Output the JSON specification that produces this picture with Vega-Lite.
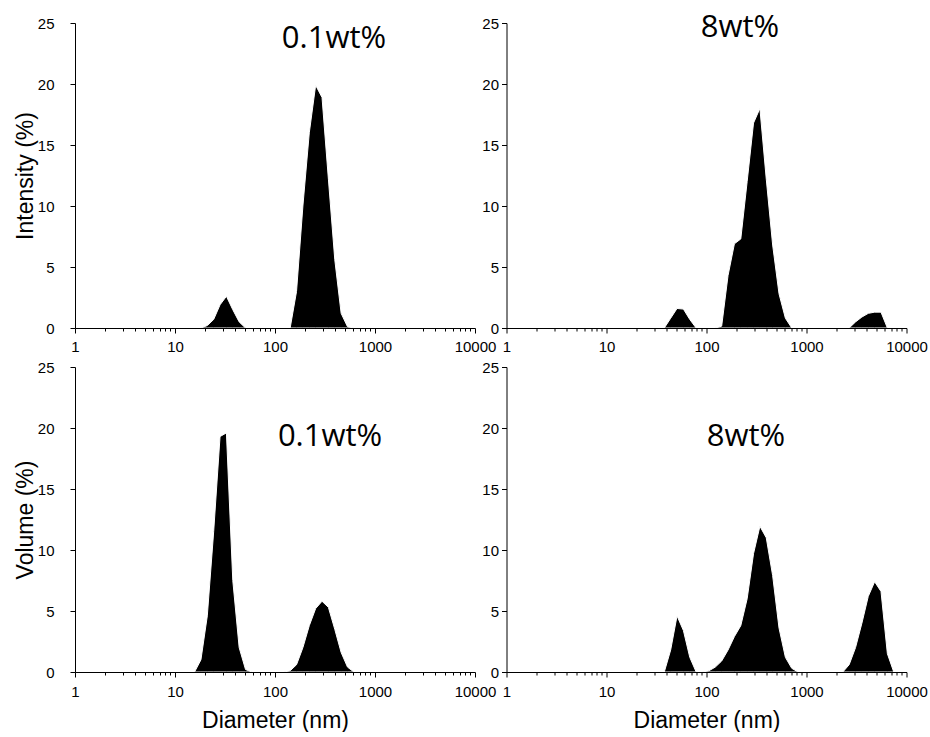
{
  "$schema": "https://vega.github.io/schema/vega-lite/v6.json",
  "background": "white",
  "padding": {"left": 14, "top": 12, "right": 0, "bottom": 0},
  "datasets": {
    "dist": [
      {"panel": "TL", "peak": "a", "d": 18.17, "v": 0},
      {"panel": "TL", "peak": "a", "d": 21.04, "v": 0.2},
      {"panel": "TL", "peak": "a", "d": 24.36, "v": 0.7},
      {"panel": "TL", "peak": "a", "d": 28.21, "v": 1.9},
      {"panel": "TL", "peak": "a", "d": 32.67, "v": 2.6},
      {"panel": "TL", "peak": "a", "d": 37.84, "v": 1.5},
      {"panel": "TL", "peak": "a", "d": 43.82, "v": 0.5},
      {"panel": "TL", "peak": "a", "d": 50.75, "v": 0},
      {"panel": "TL", "peak": "b", "d": 141.8, "v": 0},
      {"panel": "TL", "peak": "b", "d": 164.2, "v": 3.0},
      {"panel": "TL", "peak": "b", "d": 190.1, "v": 10.0},
      {"panel": "TL", "peak": "b", "d": 220.2, "v": 16.0},
      {"panel": "TL", "peak": "b", "d": 255.0, "v": 19.9},
      {"panel": "TL", "peak": "b", "d": 295.3, "v": 18.9},
      {"panel": "TL", "peak": "b", "d": 342.0, "v": 12.2},
      {"panel": "TL", "peak": "b", "d": 396.1, "v": 5.6},
      {"panel": "TL", "peak": "b", "d": 458.7, "v": 1.2},
      {"panel": "TL", "peak": "b", "d": 531.2, "v": 0.1},
      {"panel": "TL", "peak": "b", "d": 615.1, "v": 0},

      {"panel": "TR", "peak": "a", "d": 37.84, "v": 0},
      {"panel": "TR", "peak": "a", "d": 43.82, "v": 0.8},
      {"panel": "TR", "peak": "a", "d": 50.75, "v": 1.6},
      {"panel": "TR", "peak": "a", "d": 58.77, "v": 1.55},
      {"panel": "TR", "peak": "a", "d": 68.06, "v": 0.7},
      {"panel": "TR", "peak": "a", "d": 78.82, "v": 0},
      {"panel": "TR", "peak": "b", "d": 122.4, "v": 0},
      {"panel": "TR", "peak": "b", "d": 141.8, "v": 0.15},
      {"panel": "TR", "peak": "b", "d": 164.2, "v": 4.3},
      {"panel": "TR", "peak": "b", "d": 190.1, "v": 6.9},
      {"panel": "TR", "peak": "b", "d": 220.2, "v": 7.3},
      {"panel": "TR", "peak": "b", "d": 255.0, "v": 12.0},
      {"panel": "TR", "peak": "b", "d": 295.3, "v": 16.8},
      {"panel": "TR", "peak": "b", "d": 342.0, "v": 18.0},
      {"panel": "TR", "peak": "b", "d": 396.1, "v": 12.2},
      {"panel": "TR", "peak": "b", "d": 458.7, "v": 6.8},
      {"panel": "TR", "peak": "b", "d": 531.2, "v": 2.8},
      {"panel": "TR", "peak": "b", "d": 615.1, "v": 0.8},
      {"panel": "TR", "peak": "b", "d": 712.4, "v": 0},
      {"panel": "TR", "peak": "c", "d": 2671, "v": 0},
      {"panel": "TR", "peak": "c", "d": 3093, "v": 0.5},
      {"panel": "TR", "peak": "c", "d": 3581, "v": 0.9},
      {"panel": "TR", "peak": "c", "d": 4147, "v": 1.2},
      {"panel": "TR", "peak": "c", "d": 4803, "v": 1.3},
      {"panel": "TR", "peak": "c", "d": 5561, "v": 1.3},
      {"panel": "TR", "peak": "c", "d": 6439, "v": 0},

      {"panel": "BL", "peak": "a", "d": 15.69, "v": 0},
      {"panel": "BL", "peak": "a", "d": 18.17, "v": 1.0},
      {"panel": "BL", "peak": "a", "d": 21.04, "v": 4.6},
      {"panel": "BL", "peak": "a", "d": 24.36, "v": 11.5},
      {"panel": "BL", "peak": "a", "d": 28.21, "v": 19.3},
      {"panel": "BL", "peak": "a", "d": 32.67, "v": 19.6},
      {"panel": "BL", "peak": "a", "d": 37.84, "v": 7.5},
      {"panel": "BL", "peak": "a", "d": 43.82, "v": 2.0},
      {"panel": "BL", "peak": "a", "d": 50.75, "v": 0.2},
      {"panel": "BL", "peak": "a", "d": 58.77, "v": 0},
      {"panel": "BL", "peak": "b", "d": 122.4, "v": 0},
      {"panel": "BL", "peak": "b", "d": 141.8, "v": 0.1},
      {"panel": "BL", "peak": "b", "d": 164.2, "v": 0.6},
      {"panel": "BL", "peak": "b", "d": 190.1, "v": 2.0},
      {"panel": "BL", "peak": "b", "d": 220.2, "v": 3.8},
      {"panel": "BL", "peak": "b", "d": 255.0, "v": 5.2},
      {"panel": "BL", "peak": "b", "d": 295.3, "v": 5.8},
      {"panel": "BL", "peak": "b", "d": 342.0, "v": 5.3},
      {"panel": "BL", "peak": "b", "d": 396.1, "v": 3.5},
      {"panel": "BL", "peak": "b", "d": 458.7, "v": 1.6},
      {"panel": "BL", "peak": "b", "d": 531.2, "v": 0.4},
      {"panel": "BL", "peak": "b", "d": 615.1, "v": 0},

      {"panel": "BR", "peak": "a", "d": 37.84, "v": 0},
      {"panel": "BR", "peak": "a", "d": 43.82, "v": 1.8},
      {"panel": "BR", "peak": "a", "d": 50.75, "v": 4.6},
      {"panel": "BR", "peak": "a", "d": 58.77, "v": 3.4},
      {"panel": "BR", "peak": "a", "d": 68.06, "v": 1.2},
      {"panel": "BR", "peak": "a", "d": 78.82, "v": 0},
      {"panel": "BR", "peak": "b", "d": 91.28, "v": 0},
      {"panel": "BR", "peak": "b", "d": 105.7, "v": 0.1},
      {"panel": "BR", "peak": "b", "d": 122.4, "v": 0.4},
      {"panel": "BR", "peak": "b", "d": 141.8, "v": 0.9},
      {"panel": "BR", "peak": "b", "d": 164.2, "v": 1.8},
      {"panel": "BR", "peak": "b", "d": 190.1, "v": 2.9},
      {"panel": "BR", "peak": "b", "d": 220.2, "v": 3.8},
      {"panel": "BR", "peak": "b", "d": 255.0, "v": 6.0},
      {"panel": "BR", "peak": "b", "d": 295.3, "v": 9.7},
      {"panel": "BR", "peak": "b", "d": 342.0, "v": 11.95},
      {"panel": "BR", "peak": "b", "d": 396.1, "v": 11.0},
      {"panel": "BR", "peak": "b", "d": 458.7, "v": 7.9},
      {"panel": "BR", "peak": "b", "d": 531.2, "v": 3.6},
      {"panel": "BR", "peak": "b", "d": 615.1, "v": 1.2},
      {"panel": "BR", "peak": "b", "d": 712.4, "v": 0.3},
      {"panel": "BR", "peak": "b", "d": 825.0, "v": 0},
      {"panel": "BR", "peak": "c", "d": 2307, "v": 0},
      {"panel": "BR", "peak": "c", "d": 2671, "v": 0.6},
      {"panel": "BR", "peak": "c", "d": 3093, "v": 2.0},
      {"panel": "BR", "peak": "c", "d": 3581, "v": 4.0},
      {"panel": "BR", "peak": "c", "d": 4147, "v": 6.2},
      {"panel": "BR", "peak": "c", "d": 4803, "v": 7.4},
      {"panel": "BR", "peak": "c", "d": 5561, "v": 6.6},
      {"panel": "BR", "peak": "c", "d": 6439, "v": 1.5},
      {"panel": "BR", "peak": "c", "d": 7456, "v": 0}
    ],
    "labels": [
      {"panel": "TL", "label": "0.1wt%", "d": 389, "v": 22.95},
      {"panel": "TR", "label": "8wt%", "d": 216, "v": 23.85},
      {"panel": "BL", "label": "0.1wt%", "d": 355, "v": 18.55},
      {"panel": "BR", "label": "8wt%", "d": 248, "v": 18.55}
    ]
  },
  "columns": 2,
  "bounds": "flush",
  "spacing": {"row": 39, "column": 31.5},
  "concat": [
    {
      "width": 400, "height": 305,
      "layer": [
        {
          "data": {"name": "dist"},
          "transform": [{"filter": "datum.panel === 'TL'"}],
          "mark": {"type": "area", "fill": "black", "stroke": "white", "strokeWidth": 1},
          "encoding": {
            "x": {"field": "d", "type": "quantitative",
              "scale": {"type": "log", "domain": [1, 10000], "nice": false},
              "axis": {"title": null, "zindex": 1, "values": [1,2,3,4,5,6,7,8,9,10,20,30,40,50,60,70,80,90,100,200,300,400,500,600,700,800,900,1000,2000,3000,4000,5000,6000,7000,8000,9000,10000],
                "format": "d", "labelExpr": "indexof([1,10,100,1000,10000], datum.value) >= 0 ? datum.label : ''",
                "tickSize": {"condition": {"test": "indexof([1,10,100,1000,10000], datum.value) >= 0", "value": 5}, "value": 3},
                "labelPadding": 6, "labelOverlap": false, "labelFlush": false, "labelBound": false}},
            "y": {"field": "v", "type": "quantitative", "stack": null,
              "scale": {"domain": [0, 25], "nice": false},
              "axis": {"title": "Intensity (%)", "zindex": 1, "values": [0,2.5,5,7.5,10,12.5,15,17.5,20,22.5,25],
                "format": "d", "labelExpr": "datum.value % 5 === 0 ? datum.label : ''",
                "tickSize": {"condition": {"test": "datum.value % 5 === 0", "value": 5}, "value": 3},
                "labelPadding": 16, "titlePadding": 0, "labelOverlap": false, "labelFlush": false}},
            "detail": {"field": "peak"}
          }
        },
        {
          "data": {"name": "labels"},
          "transform": [{"filter": "datum.panel === 'TL'"}],
          "mark": {"type": "text", "font": "Open Sans", "fontSize": 31, "align": "center", "baseline": "alphabetic", "color": "black"},
          "encoding": {
            "x": {"field": "d", "type": "quantitative"},
            "y": {"field": "v", "type": "quantitative"},
            "text": {"field": "label"}
          }
        }
      ]
    },
    {
      "width": 400, "height": 305,
      "layer": [
        {
          "data": {"name": "dist"},
          "transform": [{"filter": "datum.panel === 'TR'"}],
          "mark": {"type": "area", "fill": "black", "stroke": "white", "strokeWidth": 1},
          "encoding": {
            "x": {"field": "d", "type": "quantitative",
              "scale": {"type": "log", "domain": [1, 10000], "nice": false},
              "axis": {"title": null, "zindex": 1, "values": [1,2,3,4,5,6,7,8,9,10,20,30,40,50,60,70,80,90,100,200,300,400,500,600,700,800,900,1000,2000,3000,4000,5000,6000,7000,8000,9000,10000],
                "format": "d", "labelExpr": "indexof([1,10,100,1000,10000], datum.value) >= 0 ? datum.label : ''",
                "tickSize": {"condition": {"test": "indexof([1,10,100,1000,10000], datum.value) >= 0", "value": 5}, "value": 3},
                "labelPadding": 6, "labelOverlap": false, "labelFlush": false, "labelBound": false}},
            "y": {"field": "v", "type": "quantitative", "stack": null,
              "scale": {"domain": [0, 25], "nice": false},
              "axis": {"title": null, "zindex": 1, "values": [0,2.5,5,7.5,10,12.5,15,17.5,20,22.5,25],
                "format": "d", "labelExpr": "datum.value % 5 === 0 ? datum.label : ''",
                "tickSize": {"condition": {"test": "datum.value % 5 === 0", "value": 5}, "value": 3},
                "labelPadding": 3, "labelOverlap": false, "labelFlush": false}},
            "detail": {"field": "peak"}
          }
        },
        {
          "data": {"name": "labels"},
          "transform": [{"filter": "datum.panel === 'TR'"}],
          "mark": {"type": "text", "font": "Open Sans", "fontSize": 31, "align": "center", "baseline": "alphabetic", "color": "black"},
          "encoding": {
            "x": {"field": "d", "type": "quantitative"},
            "y": {"field": "v", "type": "quantitative"},
            "text": {"field": "label"}
          }
        }
      ]
    },
    {
      "width": 400, "height": 305,
      "layer": [
        {
          "data": {"name": "dist"},
          "transform": [{"filter": "datum.panel === 'BL'"}],
          "mark": {"type": "area", "fill": "black", "stroke": "white", "strokeWidth": 1},
          "encoding": {
            "x": {"field": "d", "type": "quantitative",
              "scale": {"type": "log", "domain": [1, 10000], "nice": false},
              "axis": {"title": "Diameter (nm)", "zindex": 1, "values": [1,2,3,4,5,6,7,8,9,10,20,30,40,50,60,70,80,90,100,200,300,400,500,600,700,800,900,1000,2000,3000,4000,5000,6000,7000,8000,9000,10000],
                "format": "d", "labelExpr": "indexof([1,10,100,1000,10000], datum.value) >= 0 ? datum.label : ''",
                "tickSize": {"condition": {"test": "indexof([1,10,100,1000,10000], datum.value) >= 0", "value": 5}, "value": 3},
                "labelPadding": 7, "titlePadding": 10, "labelOverlap": false, "labelFlush": false, "labelBound": false}},
            "y": {"field": "v", "type": "quantitative", "stack": null,
              "scale": {"domain": [0, 25], "nice": false},
              "axis": {"title": "Volume (%)", "zindex": 1, "values": [0,2.5,5,7.5,10,12.5,15,17.5,20,22.5,25],
                "format": "d", "labelExpr": "datum.value % 5 === 0 ? datum.label : ''",
                "tickSize": {"condition": {"test": "datum.value % 5 === 0", "value": 5}, "value": 3},
                "labelPadding": 16, "titlePadding": 0, "labelOverlap": false, "labelFlush": false}},
            "detail": {"field": "peak"}
          }
        },
        {
          "data": {"name": "labels"},
          "transform": [{"filter": "datum.panel === 'BL'"}],
          "mark": {"type": "text", "font": "Open Sans", "fontSize": 31, "align": "center", "baseline": "alphabetic", "color": "black"},
          "encoding": {
            "x": {"field": "d", "type": "quantitative"},
            "y": {"field": "v", "type": "quantitative"},
            "text": {"field": "label"}
          }
        }
      ]
    },
    {
      "width": 400, "height": 305,
      "layer": [
        {
          "data": {"name": "dist"},
          "transform": [{"filter": "datum.panel === 'BR'"}],
          "mark": {"type": "area", "fill": "black", "stroke": "white", "strokeWidth": 1},
          "encoding": {
            "x": {"field": "d", "type": "quantitative",
              "scale": {"type": "log", "domain": [1, 10000], "nice": false},
              "axis": {"title": "Diameter (nm)", "zindex": 1, "values": [1,2,3,4,5,6,7,8,9,10,20,30,40,50,60,70,80,90,100,200,300,400,500,600,700,800,900,1000,2000,3000,4000,5000,6000,7000,8000,9000,10000],
                "format": "d", "labelExpr": "indexof([1,10,100,1000,10000], datum.value) >= 0 ? datum.label : ''",
                "tickSize": {"condition": {"test": "indexof([1,10,100,1000,10000], datum.value) >= 0", "value": 5}, "value": 3},
                "labelPadding": 7, "titlePadding": 10, "labelOverlap": false, "labelFlush": false, "labelBound": false}},
            "y": {"field": "v", "type": "quantitative", "stack": null,
              "scale": {"domain": [0, 25], "nice": false},
              "axis": {"title": null, "zindex": 1, "values": [0,2.5,5,7.5,10,12.5,15,17.5,20,22.5,25],
                "format": "d", "labelExpr": "datum.value % 5 === 0 ? datum.label : ''",
                "tickSize": {"condition": {"test": "datum.value % 5 === 0", "value": 5}, "value": 3},
                "labelPadding": 3, "labelOverlap": false, "labelFlush": false}},
            "detail": {"field": "peak"}
          }
        },
        {
          "data": {"name": "labels"},
          "transform": [{"filter": "datum.panel === 'BR'"}],
          "mark": {"type": "text", "font": "Open Sans", "fontSize": 31, "align": "center", "baseline": "alphabetic", "color": "black"},
          "encoding": {
            "x": {"field": "d", "type": "quantitative"},
            "y": {"field": "v", "type": "quantitative"},
            "text": {"field": "label"}
          }
        }
      ]
    }
  ],
  "config": {
    "view": {"stroke": null},
    "axis": {
      "grid": false, "zindex": 1,
      "domainColor": "black", "tickColor": "black", "labelColor": "black", "titleColor": "black",
      "domainWidth": 1, "tickWidth": 1,
      "labelFont": "Liberation Sans", "titleFont": "Liberation Sans",
      "labelFontSize": 15, "titleFontSize": 23, "titleFontWeight": "normal"
    }
  }
}
